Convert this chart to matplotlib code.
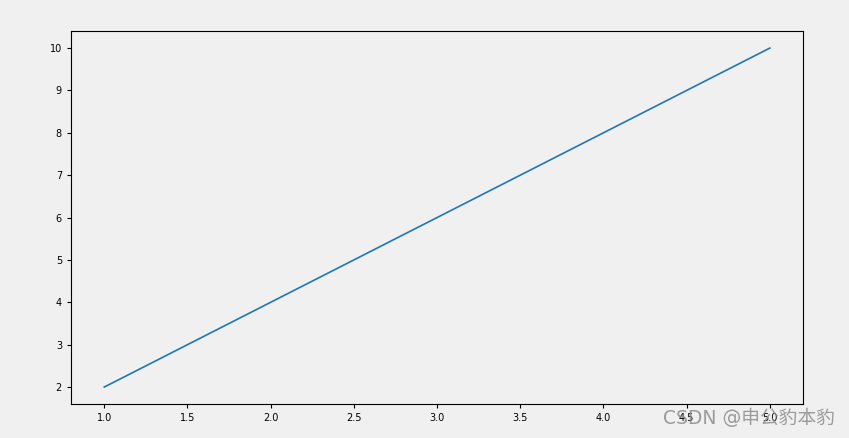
import matplotlib
matplotlib.use("Agg")
import matplotlib.pyplot as plt

plt.rcParams['font.family'] = ['DejaVu Sans', 'Noto Sans CJK SC']

x = [1, 2, 3, 4, 5]
y = [2, 4, 6, 8, 10]

fig = plt.figure(figsize=(8.49, 4.38), dpi=100, facecolor='#f0f0f0')
ax = fig.add_axes([0.0836, 0.0776, 0.8624, 0.8514])
ax.set_facecolor('#f0f0f0')
ax.plot(x, y, color='#1f77b4', linewidth=1.2)
ax.tick_params(labelsize=7, length=3)

# watermark (overlaps the last tick labels, as in the source image)
fig.text(0.984, 0.045, 'CSDN @申公豹本豹', ha='right', va='center',
         fontsize=13.5, color='#8c8c8c', alpha=0.85,
         family=['DejaVu Sans', 'Noto Sans CJK SC'])

fig.savefig('out.png', dpi=100, facecolor=fig.get_facecolor())
